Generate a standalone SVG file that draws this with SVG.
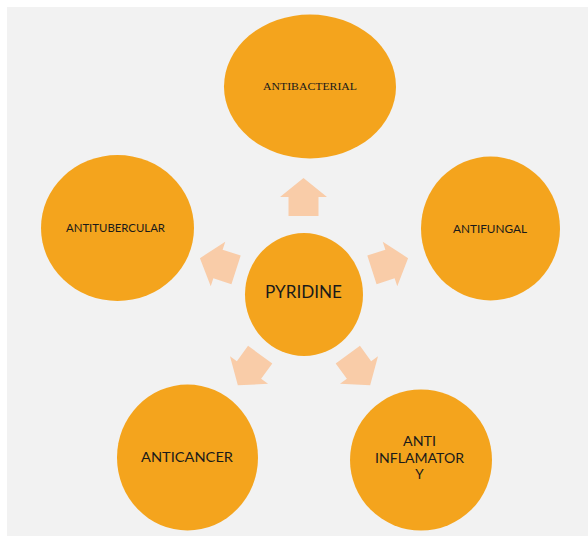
<svg xmlns="http://www.w3.org/2000/svg" width="588" height="536" viewBox="0 0 588 536">
  <defs>
    <style>
      .bubble { fill: #F4A41D; }
      .arrow { fill: #F9CCA8; }
      .lbl { font-family: Lato, "Open Sans", "Liberation Sans", sans-serif; fill: #1A1A1A; text-anchor: middle; }
      .serif { font-family: "Liberation Serif", "DejaVu Serif", serif; fill: #1A1A1A; text-anchor: middle; }
    </style>
    <!-- block arrow pointing up, centred on the origin -->
    <polygon id="blockArrow" points="0,-19 23.5,0 15,0 15,19 -15,19 -15,0 -23.5,0"/>
  </defs>

  <rect x="0" y="0" width="588" height="536" fill="#FFFFFF"/>
  <rect x="7" y="7" width="581" height="529" fill="#F2F2F2"/>

  <g id="connectors" class="arrow">
    <use href="#blockArrow" transform="translate(303.5,197)"/>
    <use href="#blockArrow" transform="translate(390,264) rotate(72)"/>
    <use href="#blockArrow" transform="translate(218,264) rotate(-72)"/>
    <use href="#blockArrow" transform="translate(249,370) rotate(-144)"/>
    <use href="#blockArrow" transform="translate(359,370) rotate(144)"/>
  </g>

  <g id="antibacterial">
    <ellipse class="bubble" cx="310" cy="86.5" rx="86" ry="72"/>
    <text class="serif" x="310" y="89.5" font-size="11" textLength="94" lengthAdjust="spacingAndGlyphs">ANTIBACTERIAL</text>
  </g>

  <g id="antifungal">
    <ellipse class="bubble" cx="490.5" cy="228.5" rx="69.5" ry="72"/>
    <text class="lbl" x="490" y="233" font-size="12" textLength="74" lengthAdjust="spacingAndGlyphs">ANTIFUNGAL</text>
  </g>

  <g id="antitubercular">
    <ellipse class="bubble" cx="117.5" cy="228" rx="76.5" ry="73"/>
    <text class="lbl" x="115.5" y="232" font-size="12" textLength="99" lengthAdjust="spacingAndGlyphs">ANTITUBERCULAR</text>
  </g>

  <g id="pyridine">
    <ellipse class="bubble" cx="304" cy="294.5" rx="59" ry="61.5"/>
    <text class="lbl" x="303.5" y="297.5" font-size="17" textLength="77" lengthAdjust="spacingAndGlyphs">PYRIDINE</text>
  </g>

  <g id="anticancer">
    <ellipse class="bubble" cx="187.5" cy="457.5" rx="70.5" ry="73"/>
    <text class="lbl" x="187" y="462" font-size="14" textLength="92" lengthAdjust="spacingAndGlyphs">ANTICANCER</text>
  </g>

  <g id="antiinflamatory">
    <ellipse class="bubble" cx="421" cy="460" rx="71" ry="70.5"/>
    <text class="lbl" x="419.5" y="445.5" font-size="13.5" textLength="33" lengthAdjust="spacingAndGlyphs">ANTI</text>
    <text class="lbl" x="419.5" y="462.5" font-size="13.5" textLength="89" lengthAdjust="spacingAndGlyphs">INFLAMATOR</text>
    <text class="lbl" x="419.5" y="478.5" font-size="13.5">Y</text>
  </g>
</svg>
